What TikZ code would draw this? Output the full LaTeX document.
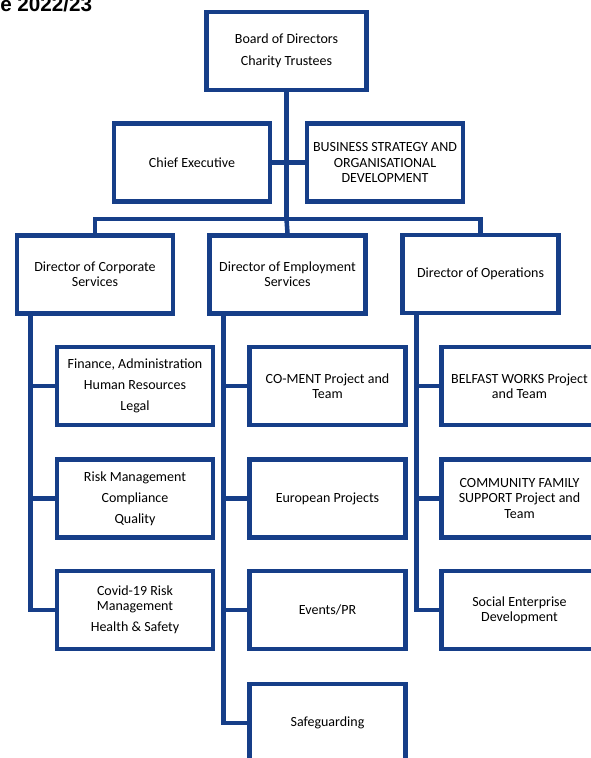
\documentclass[tikz,border=0pt]{standalone}
\usepackage{fontspec}
\setmainfont{Carlito}
\newfontfamily\titlefont{Liberation Sans}
\definecolor{orgblue}{RGB}{22,62,136}

\begin{document}
\begin{tikzpicture}[x=0.75pt,y=0.75pt,yscale=-1,xscale=1,
  orgbox/.style={draw=orgblue, line width=3.4pt, fill=white, minimum width=117pt, minimum height=58.5pt, inner sep=2pt, align=center, font=\fontsize{10.5}{11.5}\selectfont},
  link/.style={draw=orgblue, line width=3.4pt, line join=miter}]
\useasboundingbox (0,0) rectangle (591,758);

% Text Node
\node[anchor=base west, inner sep=0pt, font=\titlefont\bfseries\fontsize{15.5}{18}\selectfont] (title) at (0,11) {e 2022/23};

%Shape: Rectangle [top]
\node[orgbox, minimum width=120pt] (board) at (286.5,51) {Board of Directors\\[5pt]Charity Trustees};
\node[orgbox] (ceo) at (192,162.5) {Chief Executive};
\node[orgbox] (bsod) at (385,162.5) {BUSINESS STRATEGY AND\\ORGANISATIONAL\\DEVELOPMENT};

%Shape: Rectangle [directors]
\node[orgbox] (dcs) at (95,274.5) {Director of Corporate\\Services};
\node[orgbox] (des) at (287.5,274.5) {Director of Employment\\Services};
\node[orgbox] (dos) at (480.5,274) {Director of Operations};

%Shape: Rectangle [corporate services]
\node[orgbox] (fin) at (135,386) {Finance, Administration\\[4.25pt]Human Resources\\[4.25pt]Legal};
\node[orgbox] (risk) at (135,498.5) {Risk Management\\[4.25pt]Compliance\\[4.25pt]Quality};
\node[orgbox] (covid) at (135,610) {Covid-19 Risk\\Management\\[4.25pt]Health \& Safety};

%Shape: Rectangle [employment services]
\node[orgbox] (coment) at (327.5,386) {CO-MENT Project and\\Team};
\node[orgbox] (euro) at (327.5,498.5) {European Projects};
\node[orgbox] (events) at (327.5,610) {Events/PR};
\node[orgbox] (safe) at (327.5,723) {Safeguarding};

%Shape: Rectangle [operations]
\node[orgbox] (belfast) at (519.5,386) {BELFAST WORKS Project\\and Team};
\node[orgbox] (cfs) at (519.5,498.5) {COMMUNITY FAMILY\\SUPPORT Project and\\Team};
\node[orgbox] (sed) at (519.5,610) {Social Enterprise\\Development};

%Straight Lines
\coordinate (hub) at (286.5,219);
\draw[link] (board.south) -- (hub);
\draw[link] (ceo.east) -- (bsod.west);
\draw[link] (dcs.north) |- (hub) -| (dos.north);
\draw[link] (hub) -- (des.north);

%Straight Lines [spines]
\foreach \c in {fin,risk,covid}
  \draw[link] ([xshift=12pt]dcs.south west) |- (\c.west);
\foreach \c in {coment,euro,events,safe}
  \draw[link] ([xshift=12pt]des.south west) |- (\c.west);
\foreach \c in {belfast,cfs,sed}
  \draw[link] ([xshift=12pt]dos.south west) |- (\c.west);

\end{tikzpicture}
\end{document}
